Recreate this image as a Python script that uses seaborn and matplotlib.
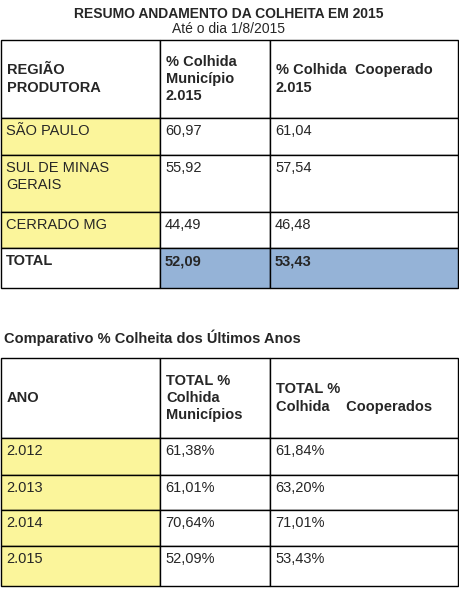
import matplotlib
matplotlib.use("Agg")
import matplotlib.pyplot as plt
import seaborn as sns
from matplotlib.patches import Rectangle

sns.set_theme(style="white")
plt.rcParams['font.family'] = ['Liberation Sans', 'DejaVu Sans']

title1 = "RESUMO ANDAMENTO DA COLHEITA EM 2015"
subtitle1 = "Até o dia 1/8/2015"
headers1 = ["REGIÃO\nPRODUTORA", "% Colhida\nMunicípio\n2.015", "% Colhida  Cooperado\n2.015"]
regions = ["SÃO PAULO", "SUL DE MINAS\nGERAIS", "CERRADO MG", "TOTAL"]
municipio = ["60,97", "55,92", "44,49", "52,09"]
cooperado = ["61,04", "57,54", "46,48", "53,43"]

title2 = "Comparativo % Colheita dos Últimos Anos"
headers2 = ["ANO", "TOTAL %\nColhida\nMunicípios", "TOTAL %\nColhida    Cooperados"]
anos = ["2.012", "2.013", "2.014", "2.015"]
mun_anos = ["61,38%", "61,01%", "70,64%", "52,09%"]
coop_anos = ["61,84%", "63,20%", "71,01%", "53,43%"]

YELLOW = "#fbf59b"
BLUE = "#95b3d7"

fig = plt.figure(figsize=(4.59, 6.02), dpi=100)
ax = fig.add_axes([0, 0, 1, 1])
ax.set_xlim(0, 459)
ax.set_ylim(602, 0)
ax.axis("off")

cols = [1, 160, 270, 458]

def table(rows_y, header, c1, c2, c3, bold_last, blue_last):
    n = len(rows_y) - 1
    for r in range(n):
        y0, y1 = rows_y[r], rows_y[r + 1]
        for c in range(3):
            fc = "white"
            if r > 0 and c == 0 and not (bold_last and r == n - 1):
                fc = YELLOW
            if blue_last and r == n - 1 and c > 0:
                fc = BLUE
            ax.add_patch(Rectangle((cols[c], y0), cols[c + 1] - cols[c], y1 - y0,
                                   facecolor=fc, edgecolor="black", lw=1))
        if r == 0:
            for c, t in enumerate(header):
                ax.text(cols[c] + 6, (y0 + y1) / 2, t, va="center", ha="left", fontsize=10.5,
                        fontweight="bold", linespacing=1.3)
        else:
            vals = [c1[r - 1], c2[r - 1], c3[r - 1]]
            bold = bold_last and r == n - 1
            for c, t in enumerate(vals):
                ax.text(cols[c] + 5, y0 + 6, t, va="top", ha="left", fontsize=10.5,
                        fontweight="bold" if bold else "normal", linespacing=1.25)

ax.text(229, 14, title1, ha="center", va="center", fontsize=10, fontweight="bold")
ax.text(229, 29, subtitle1, ha="center", va="center", fontsize=10)
table([40, 118, 155, 212, 248, 288], headers1, regions, municipio, cooperado, True, True)

ax.text(4, 338, title2, ha="left", va="center", fontsize=10.5, fontweight="bold")
table([358, 438, 475, 510, 546, 586], headers2, anos, mun_anos, coop_anos, False, False)

fig.savefig("out.png", dpi=100, facecolor="white")
